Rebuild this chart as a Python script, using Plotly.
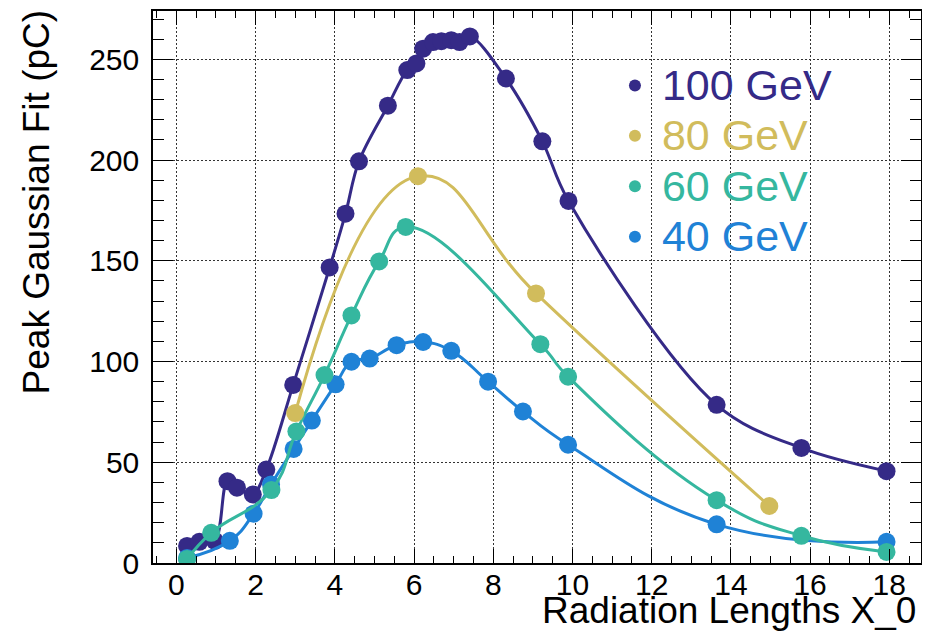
import plotly.graph_objects as go

# ---- data ----
x100 = [0.27, 0.58, 0.97, 1.29, 1.53, 1.93, 2.27, 2.95, 3.87, 4.27, 4.61, 5.34, 5.83, 6.06,
        6.23, 6.48, 6.69, 6.94, 7.15, 7.41, 8.32, 9.24, 9.90, 13.64, 15.78, 17.93]
y100 = [8.5, 10.5, 11.0, 40.6, 37.4, 34.0, 46.4, 88.4, 146.7, 173.4, 199.4, 227.0, 244.7, 248.0,
        255.3, 258.6, 259.0, 259.5, 258.6, 261.4, 240.5, 209.3, 179.7, 78.5, 57.1, 45.6]

x80 = [3.00, 6.10, 9.08, 14.97]
y80 = [74.4, 192.0, 133.8, 28.3]

x60 = [0.27, 0.88, 2.40, 3.03, 3.74, 4.42, 5.12, 5.79, 9.19, 9.89, 13.64, 15.78, 17.93]
y60 = [2.0, 15.0, 36.2, 65.3, 93.3, 122.9, 149.7, 166.8, 108.6, 92.5, 31.2, 13.5, 5.5]

x40 = [0.27, 1.35, 1.95, 2.39, 2.96, 3.42, 4.02, 4.42, 4.88, 5.56, 6.23, 6.94, 7.87, 8.75,
       9.89, 13.64, 17.93]
y40 = [2.5, 11.0, 24.5, 39.0, 56.6, 70.7, 88.7, 99.9, 101.5, 108.1, 109.7, 105.3, 90.0, 75.2,
       58.7, 19.2, 10.5]

series_names = ["100 GeV", "80 GeV", "60 GeV", "40 GeV"]
colors = {"100 GeV": "#352a87", "80 GeV": "#d1bc5c", "60 GeV": "#35b79f", "40 GeV": "#1f82d6"}
smooth = {"100 GeV": 1.0, "80 GeV": 1.3, "60 GeV": 1.3, "40 GeV": 1.3}
data = {"100 GeV": (x100, y100), "80 GeV": (x80, y80), "60 GeV": (x60, y60), "40 GeV": (x40, y40)}
draw_order = ["100 GeV", "40 GeV", "60 GeV", "80 GeV"]

x_title = "Radiation Lengths X_0"
y_title = "Peak Gaussian Fit (pC)"

FONT = "Liberation Sans, Arial, Helvetica, sans-serif"

fig = go.Figure()
for name in draw_order:
    xs, ys = data[name]
    c = colors[name]
    fig.add_trace(go.Scatter(
        x=xs, y=ys, mode="lines", showlegend=False, legendgroup=name,
        line=dict(color=c, width=3, shape="spline", smoothing=smooth[name]),
        hoverinfo="skip"))
    fig.add_trace(go.Scatter(
        x=xs, y=ys, mode="markers", legendgroup=name,
        legendrank=series_names.index(name) + 1,
        name=('<span style="font-size:25px">&nbsp;</span>'
              f'<span style="font-size:43px;fill:{c}">{name}</span>'),
        marker=dict(color=c, size=18, line=dict(width=0))))

axis_common = dict(
    showline=True, linecolor="black", linewidth=1.5, mirror="ticks",
    ticks="inside", tickcolor="black", tickwidth=1.3,
    showgrid=True, gridcolor="#333333", gridwidth=1, griddash="2px,2px",
    zeroline=False,
    tickfont=dict(family=FONT, size=30, color="black"),
)

fig.update_xaxes(**axis_common, range=[-0.59, 18.8], tick0=0, dtick=2, ticklen=14,
                 minor=dict(dtick=0.5, tick0=0, ticklen=7, ticks="inside", tickcolor="black",
                            showgrid=False),
                 ticklabelstandoff=-6)
fig.update_yaxes(**axis_common, range=[0, 274], tick0=0, dtick=50, ticklen=20,
                 minor=dict(dtick=10, tick0=0, ticklen=11, ticks="inside", tickcolor="black",
                            showgrid=False),
                 ticklabelstandoff=6)

# the page body adds an 8px margin, so the figure is sized to fit the 930x637 window
fig.update_layout(
    width=922, height=629,
    margin=dict(l=145, r=9, t=1, b=74),
    paper_bgcolor="white", plot_bgcolor="white",
    font=dict(family=FONT, color="black"),
    showlegend=True,
    legend=dict(x=0.6015, y=0.920, xanchor="left", yanchor="top",
                bgcolor="rgba(0,0,0,0)", borderwidth=0,
                font=dict(family=FONT, size=36.5),
                itemsizing="constant", traceorder="normal"),
    annotations=[
        dict(text=x_title, xref="paper", yref="paper", x=0.996, y=-0.086,
             xanchor="right", yanchor="middle", showarrow=False,
             font=dict(family=FONT, size=37, color="black")),
        dict(text=y_title, xref="paper", yref="paper", x=-0.152, y=1.006,
             xanchor="center", yanchor="top", textangle=-90, showarrow=False,
             font=dict(family=FONT, size=37, color="black")),
    ],
)

fig.write_html("out.html")
